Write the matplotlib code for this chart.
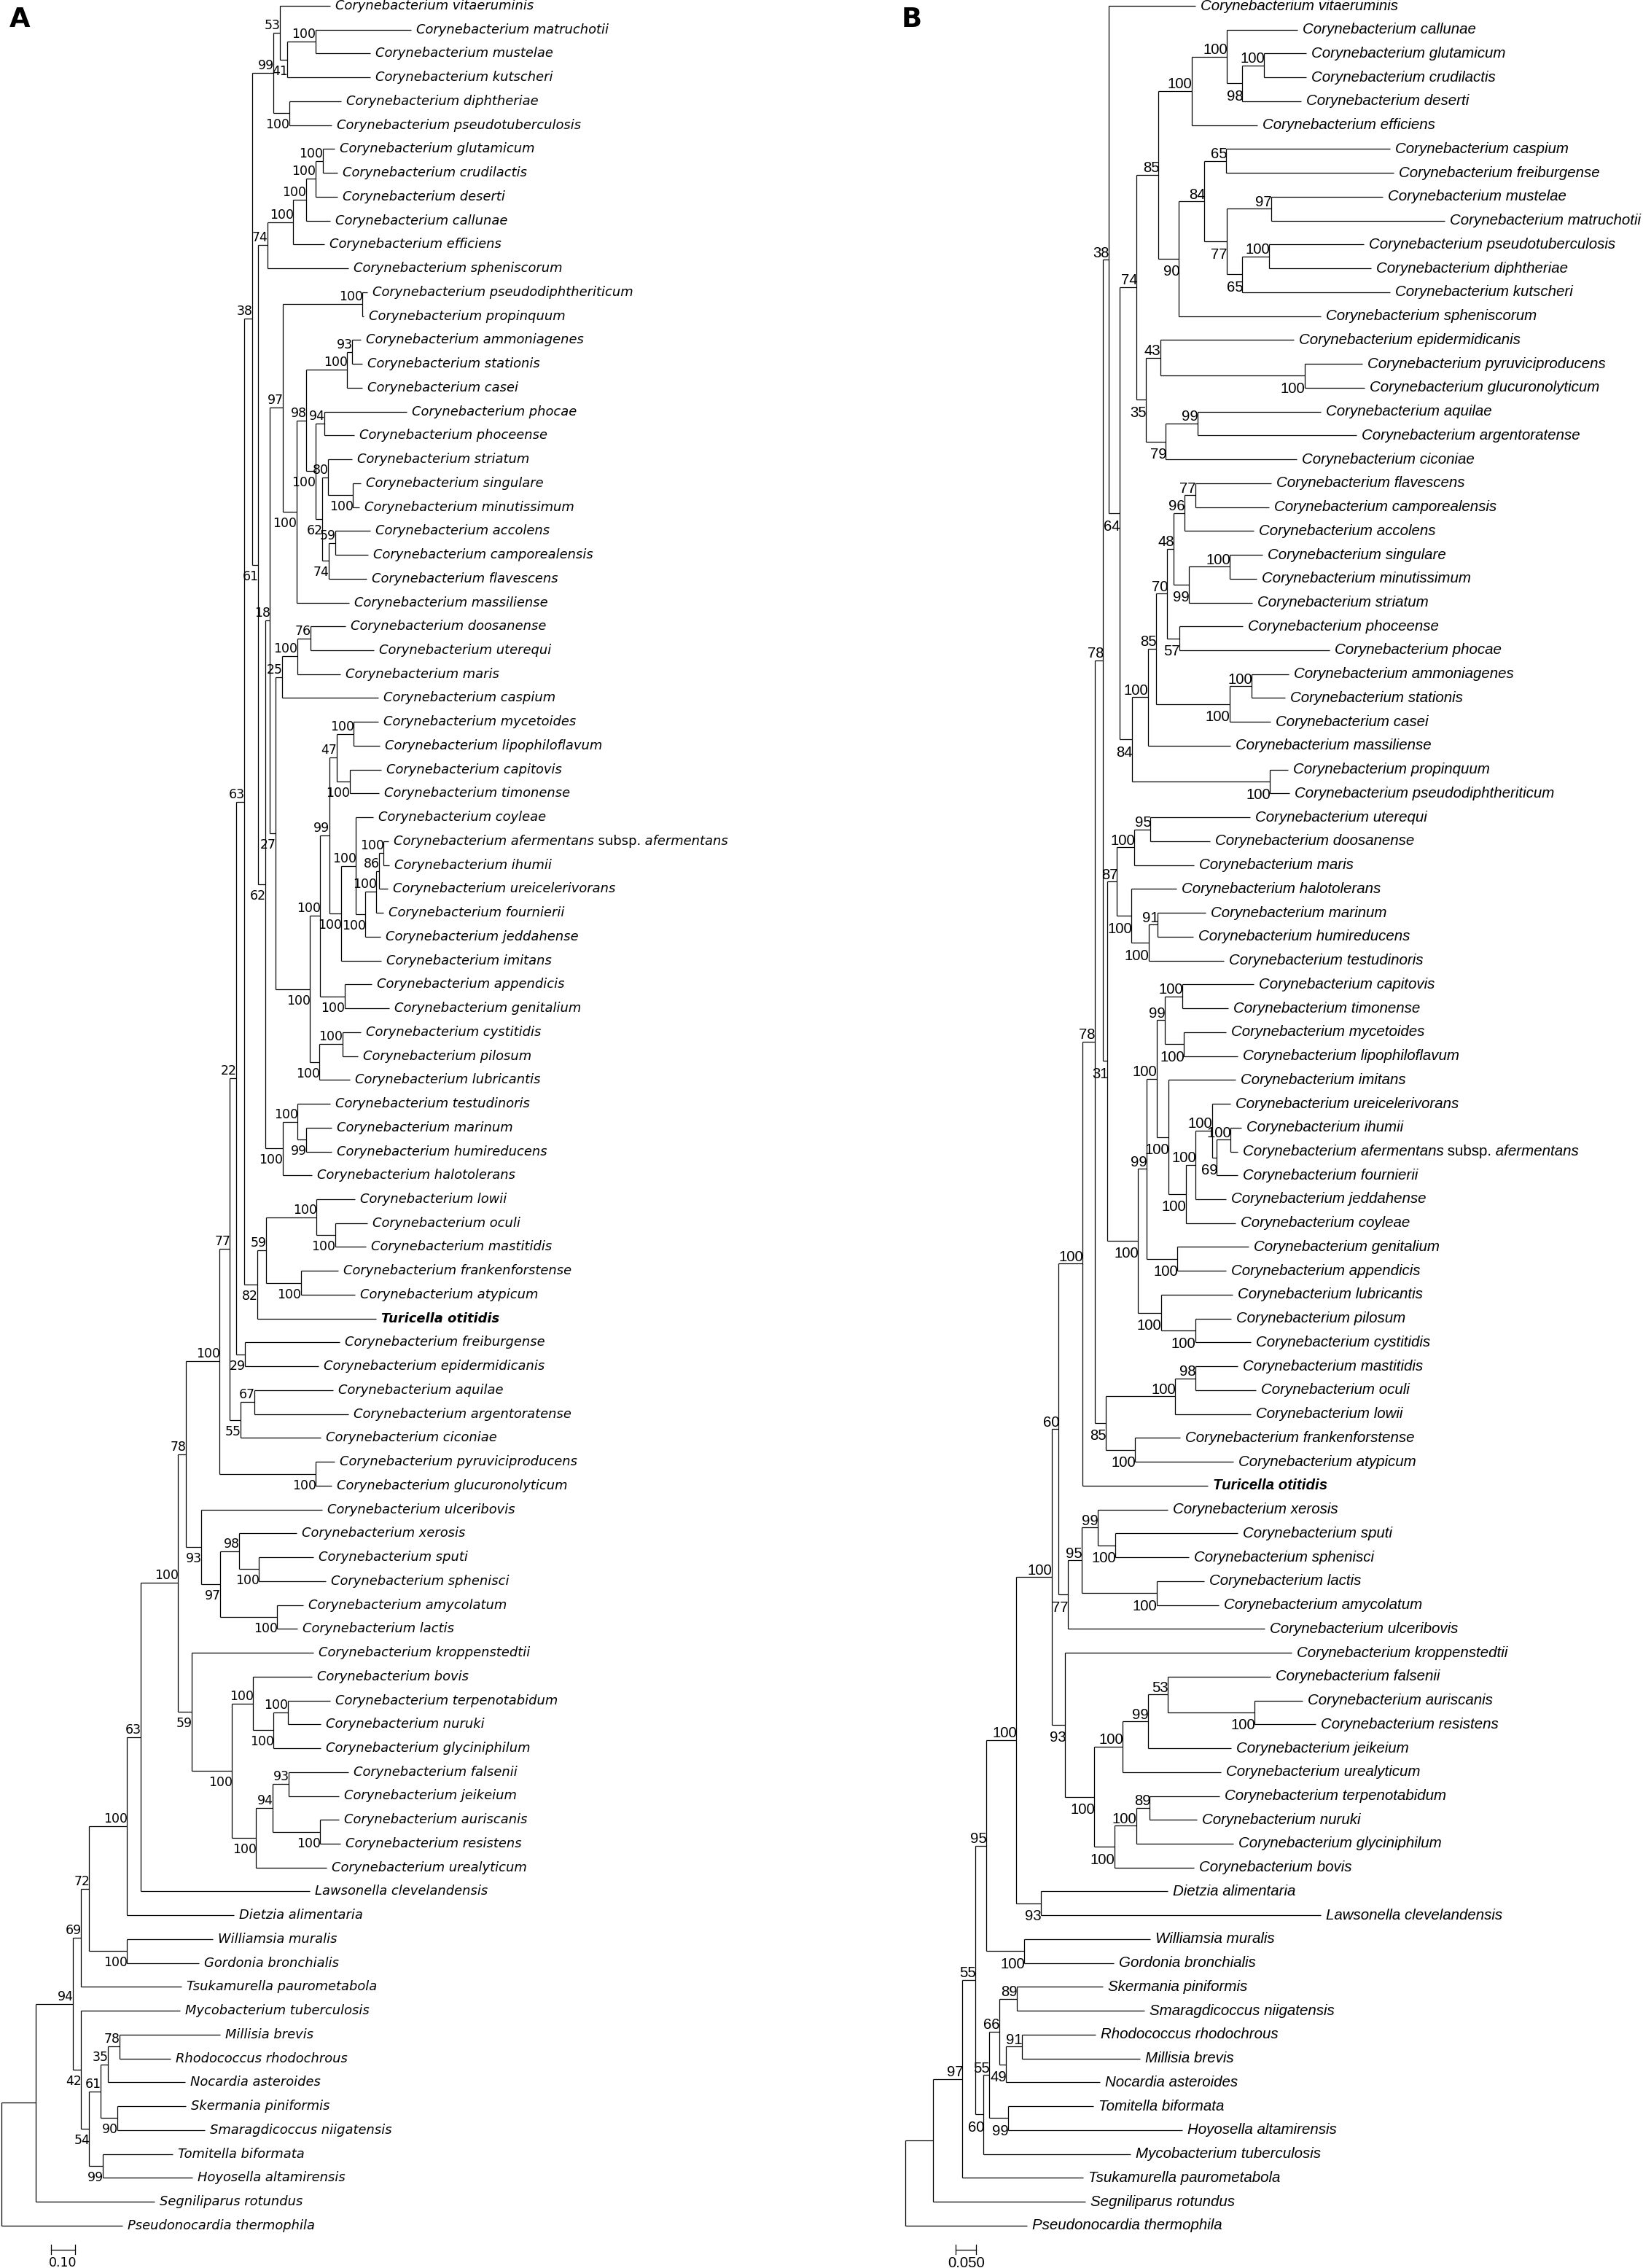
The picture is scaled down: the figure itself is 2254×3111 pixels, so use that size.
import matplotlib
matplotlib.use("Agg")
import matplotlib.pyplot as plt
from matplotlib.collections import LineCollection

# ---- tree A (newick pieces, branch lengths, labels = bootstrap) ----
A_N981 = ("((vitaeruminis:0.207,((matruchotii:0.394,mustelae:0.228)100:0.115,kutscheri:0.343)41:0.031)53:0.028,"
          "(diphtheriae:0.215,pseudotuberculosis:0.175)100:0.066)99:0.087")
A_N960 = ("(((((glutamicum:0.048,crudilactis:0.060)100:0.030,deserti:0.090)100:0.039,callunae:0.100)100:0.052,"
          "efficiens:0.129)100:0.107,spheniscorum:0.333)74:0.037")
A_N1157 = ("((striatum:0.100,(singulare:0.031,minutissimum:0.025)100:0.103)80:0.024,"
           "((accolens:0.144,camporealensis:0.134)59:0.029,flavescens:0.159)74:0.026)62:0.028")
A_N1100 = ("(((ammoniagenes:0.034,stationis:0.040)93:0.021,casei:0.061)100:0.169,"
           "((phocae:0.339,phoceense:0.123)94:0.037," + A_N1157 + ")100:0.038)98:0.040")
A_N1015 = ("((pseudodiphtheriticum:0.023,propinquum:0.006)100:0.328,(" + A_N1100 +
           ",massiliense:0.218)100:0.057)97:0.054")
A_N1013 = "(((doosanense:0.144,uterequi:0.264)76:0.054,maris:0.177)100:0.063,caspium:0.399)25:0.026"
A_N1208 = ("((mycetoides:0.103,lipophiloflavum:0.109)100:0.071,"
           "(capitovis:0.132,timonense:0.121)100:0.054)47:0.030")
A_N1225 = ("((coyleae:0.071,((((afermentans:0.020,ihumii:0.023)100:0.018,ureicelerivorans:0.034)86:0.014,"
           "fournierii:0.032)100:0.043,jeddahense:0.063)100:0.040)100:0.061,imitans:0.167)100:0.049")
A_N1150 = "((" + A_N1208 + "," + A_N1225 + ")99:0.037,(appendicis:0.113,genitalium:0.185)100:0.100)100:0.043"
A_N1113 = "(" + A_N1150 + ",((cystitidis:0.075,pilosum:0.063)100:0.094,lubricantis:0.126)100:0.040)100:0.141"
A_N990 = "(" + A_N1013 + "," + A_N1113 + ")27:0.025"
A_N1015b = ("((testudinoris:0.134,(marinum:0.103,humireducens:0.103)99:0.037)100:0.061,"
            "halotolerans:0.121)100:0.072")
A_N952 = "((" + A_N1015 + "," + A_N990 + ")18:0.018," + A_N1015b + ")62:0.028"
A_N905 = "(" + A_N981 + ",(" + A_N960 + "," + A_N952 + ")61:0.026)38:0.033"
A_N925 = ("(((lowii:0.159,(oculi:0.134,mastitidis:0.126)100:0.076)100:0.209,"
          "(frankenforstense:0.155,atypicum:0.224)100:0.144)59:0.034,Turicella_otitidis:0.489)82:0.056")
A_N848 = "((" + A_N905 + "," + A_N925 + ")63:0.032,(freiburgense:0.389,epidermidicanis:0.302)29:0.037)22:0.026"
A_N825 = "(" + A_N848 + ",((aquilae:0.324,argentoratense:0.385)67:0.059,ciconiae:0.331)55:0.043)77:0.044"
A_N787 = "(" + A_N825 + ",(pyruviciproducens:0.077,glucuronolyticum:0.066)100:0.398)100:0.137"
A_N722 = ("(ulceribovis:0.498,((xerosis:0.238,(sputi:0.224,sphenisci:0.274)100:0.083)98:0.078,"
          "(amycolatum:0.106,lactis:0.084)100:0.236)97:0.078)93:0.062")
A_N688 = ("(kroppenstedtii:0.502,((bovis:0.243,((terpenotabidum:0.176,nuruki:0.136)100:0.060,"
          "glyciniphilum:0.195)100:0.084)100:0.086,(((falsenii:0.245,jeikeium:0.207)93:0.066,"
          "(auriscanis:0.077,resistens:0.083)100:0.195)94:0.069,urealyticum:0.292)100:0.099)100:0.166)59:0.055")
A_N640 = "((" + A_N787 + "," + A_N722 + ")78:0.032," + A_N688 + ")100:0.155"
A_N290a = ("((((" + A_N640 + ",Lawsonella_clevelandensis:0.698)63:0.057,Dietzia_alimentaria:0.443)100:0.155,"
           "(Williamsia_muralis:0.356,Gordonia_bronchialis:0.299)100:0.155)72:0.034,"
           "Tsukamurella_paurometabola:0.414)69:0.034")
A_N290b = ("(Mycobacterium_tuberculosis:0.408,((((Millisia_brevis:0.416,Rhodococcus_rhodochrous:0.211)78:0.046,"
           "Nocardia_asteroides:0.318)35:0.032,(Skermania_piniformis:0.285,Smaragdicoccus_niigatensis:0.362)90:0.069)61:0.046,"
           "(Tomitella_biformata:0.287,Hoyosella_altamirensis:0.368)99:0.057)54:0.034)42:0.034")
TREE_A = ("(((" + A_N290a + "," + A_N290b + ")94:0.153,Segniliparus_rotundus:0.492):0.140,"
          "Pseudonocardia_thermophila:0.500);")

# ---- tree B ----
B_N712 = ("(((callunae:0.177,((glutamicum:0.106,crudilactis:0.106)100:0.055,deserti:0.147)98:0.039)100:0.088,"
          "efficiens:0.165)100:0.083,(((caspium:0.411,freiburgense:0.420)65:0.055,((mustelae:0.280,matruchotii:0.435)97:0.111,"
          "((pseudotuberculosis:0.236,diphtheriae:0.255)100:0.068,kutscheri:0.370)65:0.039)77:0.056)84:0.064,"
          "spheniscorum:0.356)90:0.051)85:0.055")
B_N677 = ("((epidermidicanis:0.335,(pyruviciproducens:0.145,glucuronolyticum:0.150)100:0.362)43:0.036,"
          "((aquilae:0.309,argentoratense:0.398)99:0.080,ciconiae:0.328)79:0.050)35:0.023")
B_N755 = ("(((flavescens:0.191,camporealensis:0.186)77:0.027,accolens:0.173)96:0.027,"
          "((singulare:0.082,minutissimum:0.068)100:0.103,striatum:0.159)99:0.038)48:0.016")
B_N705 = ("((" + B_N755 + ",(phoceense:0.159,phocae:0.377)57:0.030)70:0.029,"
          "((ammoniagenes:0.093,stationis:0.085)100:0.055,casei:0.102)100:0.185)85:0.020")
B_N640 = ("((" + B_N705 + ",massiliense:0.208)100:0.039,"
          "(propinquum:0.045,pseudodiphtheriticum:0.050)100:0.345)84:0.032")
B_N575 = "(vitaeruminis:0.218,((" + B_N712 + "," + B_N677 + ")74:0.043," + B_N640 + ")64:0.027)38:0.014"
B_N598 = ("(((uterequi:0.250,doosanense:0.150)95:0.041,maris:0.150)100:0.043,"
          "(halotolerans:0.113,((marinum:0.120,humireducens:0.089)91:0.023,testudinoris:0.188)100:0.043)100:0.036)87:0.024")
B_N707 = ("(((capitovis:0.179,timonense:0.115)100:0.044,(mycetoides:0.107,lipophiloflavum:0.136)100:0.047)99:0.021,"
          "(imitans:0.168,(((ureicelerivorans:0.047,((ihumii:0.027,afermentans:0.018)100:0.034,fournierii:0.052)69:0.012)100:0.041,"
          "jeddahense:0.077)100:0.025,coyleae:0.125)100:0.043)100:0.030)100:0.025")
B_N657 = ("((" + B_N707 + ",(genitalium:0.179,appendicis:0.123)100:0.077)99:0.021,"
          "(lubricantis:0.180,(pilosum:0.091,cystitidis:0.139)100:0.086)100:0.057)100:0.077")
B_N567 = ("(((mastitidis:0.106,oculi:0.153)98:0.050,lowii:0.189)100:0.175,"
          "(frankenforstense:0.113,atypicum:0.247)100:0.074)85:0.027")
B_N503 = ("(((" + B_N575 + ",(" + B_N598 + "," + B_N657 + ")31:0.011)78:0.021," + B_N567 +
          ")78:0.031,Turicella_otitidis:0.315)100:0.060")
B_N462 = ("(((xerosis:0.175,(sputi:0.306,sphenisci:0.185)100:0.044)99:0.041,"
          "(lactis:0.119,amycolatum:0.157)100:0.188)95:0.035,ulceribovis:0.494)77:0.023")
B_N455 = ("(kroppenstedtii:0.568,((((falsenii:0.257,(auriscanis:0.121,resistens:0.153)100:0.218)53:0.049,"
          "jeikeium:0.208)99:0.064,urealyticum:0.247)100:0.071,(((terpenotabidum:0.175,nuruki:0.119)89:0.034,"
          "glyciniphilum:0.244)100:0.055,bovis:0.200)100:0.050)100:0.073)93:0.034")
B_N238 = ("((((" + B_N503 + "," + B_N462 + ")60:0.017," + B_N455 + ")100:0.089,"
          "(Dietzia_alimentaria:0.318,Lawsonella_clevelandensis:0.702)93:0.062)100:0.075,"
          "(Williamsia_muralis:0.316,Gordonia_bronchialis:0.225)100:0.095)95:0.027")
B_N230 = ("((((Skermania_piniformis:0.216,Smaragdicoccus_niigatensis:0.320)89:0.044,"
          "((Rhodococcus_rhodochrous:0.185,Millisia_brevis:0.297)91:0.039,Nocardia_asteroides:0.235)49:0.018)66:0.025,"
          "(Tomitella_biformata:0.213,Hoyosella_altamirensis:0.436)99:0.048)55:0.014,"
          "Mycobacterium_tuberculosis:0.368)60:0.020")
TREE_B = ("((((" + B_N238 + "," + B_N230 + ")55:0.033,Tsukamurella_paurometabola:0.303)97:0.073,"
          "Segniliparus_rotundus:0.382):0.070,Pseudonocardia_thermophila:0.305);")

SCALE_A = 0.10
SCALE_B = 0.050

# ---- layout (pixels of the 2254x3111 canvas) ----
W, H = 2254, 3111
LEAF_TOP, LEAF_STEP = 8, 32.74


def parse_newick(s):
    pos = 0

    def node():
        nonlocal pos
        n = {"children": [], "name": "", "label": "", "length": 0.0}
        if s[pos] == "(":
            pos += 1
            while True:
                n["children"].append(node())
                if s[pos] == ",":
                    pos += 1
                    continue
                pos += 1
                break
        start = pos
        while s[pos] not in ":,);":
            pos += 1
        txt = s[start:pos]
        if n["children"]:
            n["label"] = txt
        else:
            n["name"] = txt
        if s[pos] == ":":
            pos += 1
            start = pos
            while s[pos] not in ",);":
                pos += 1
            n["length"] = float(s[start:pos])
        return n

    return node()


def place(tree):
    leaves = []

    def walk(n, x):
        n["x"] = x + n["length"]
        if n["children"]:
            for c in n["children"]:
                walk(c, n["x"])
            n["y"] = (n["children"][0]["y"] + n["children"][-1]["y"]) / 2
        else:
            n["y"] = len(leaves)
            leaves.append(n)

    walk(tree, 0.0)
    return leaves


def leaf_pieces(tok):
    if tok == "afermentans":
        return [("Corynebacterium afermentans", "italic", "normal"),
                (" subsp.", "normal", "normal"),
                (" afermentans", "italic", "normal")]
    if tok.startswith("Turicella"):
        return [(tok.replace("_", " "), "italic", "bold")]
    name = tok.replace("_", " ") if "_" in tok else "Corynebacterium " + tok
    return [(name, "italic", "normal")]


def draw_tree(ax, newick, font, leaf_fs, boot_fs, up, down):
    tree = parse_newick(newick)
    place(tree)
    segs = []

    def walk(n, parent):
        if parent is not None:
            segs.append([(parent["x"], n["y"]), (n["x"], n["y"])])
        if n["children"]:
            segs.append([(n["x"], n["children"][0]["y"]), (n["x"], n["children"][-1]["y"])])
            for c in n["children"]:
                walk(c, n)
            if n["label"] and parent is not None:
                above = parent["children"][0] is n
                ax.annotate(n["label"], xy=(n["x"], n["y"]), xytext=(1, up if above else down),
                            textcoords="offset pixels", ha="right", va="center",
                            fontsize=boot_fs, family=font)
        else:
            pieces = leaf_pieces(n["name"])
            txt, st, wt = pieces[0]
            t = ax.annotate(txt, xy=(n["x"], n["y"]), xytext=(7, 0), textcoords="offset pixels",
                            ha="left", va="center", fontsize=leaf_fs, family=font,
                            style=st, weight=wt)
            for txt, st, wt in pieces[1:]:
                t = ax.annotate(txt, xy=(1, 0), xycoords=t, ha="left", va="bottom",
                                fontsize=leaf_fs, family=font, style=st, weight=wt)

    walk(tree, None)
    ax.add_collection(LineCollection(segs, colors="black", linewidths=0.9))


def setup_axes(left_px, right_px, root_px, px_per_unit):
    ax = fig.add_axes([left_px / W, 0, (right_px - left_px) / W, 1])
    ax.set_xlim((left_px - root_px) / px_per_unit, (right_px - root_px) / px_per_unit)
    ax.set_ylim((H - LEAF_TOP) / LEAF_STEP, -LEAF_TOP / LEAF_STEP)
    ax.axis("off")
    return ax


def scale_bar(ax, x0, length, label, font, fs):
    y = 94.0
    ax.plot([x0, x0 + length], [y, y], color="black", lw=0.9)
    for xx in (x0, x0 + length):
        ax.plot([xx, xx], [y - 0.2, y + 0.2], color="black", lw=0.9)
    ax.annotate(label, xy=(x0 + length / 2, y), xytext=(0, -9), textcoords="offset pixels",
                ha="center", va="top", fontsize=fs, family=font)


fig = plt.figure(figsize=(W / 100, H / 100), dpi=100)

axA = setup_axes(0, 1127, 2, 333)
draw_tree(axA, TREE_A, "DejaVu Sans", 12.9, 12.5, 10, -16)
scale_bar(axA, 0.204, SCALE_A, "0.10", "DejaVu Sans", 12.5)

axB = setup_axes(1127, W, 1242, 547)
draw_tree(axB, TREE_B, "Liberation Sans", 14.8, 14.6, 9, -18)
scale_bar(axB, 0.127, SCALE_B, "0.050", "Liberation Sans", 14.6)

fig.text(13 / W, 1 - 37 / H, "A", ha="left", va="baseline", fontsize=26.6,
         weight="bold", family="DejaVu Sans")
fig.text(1237 / W, 1 - 37 / H, "B", ha="left", va="baseline", fontsize=26.6,
         weight="bold", family="DejaVu Sans")

fig.savefig("out.png", dpi=100, facecolor="white")
